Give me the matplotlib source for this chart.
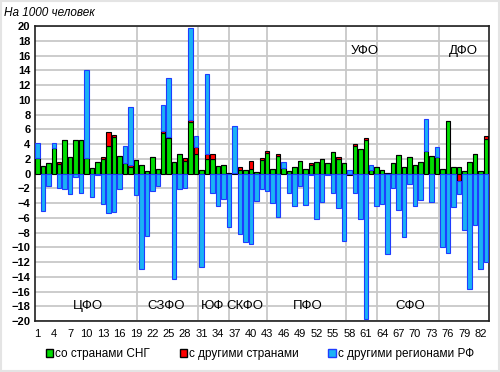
# -*- coding: utf-8 -*-
"""
Сальдо миграции по регионам РФ, на 1000 человек
"""

import numpy as np
import matplotlib
matplotlib.use('Agg')
import matplotlib.pyplot as plt
from matplotlib.patches import Patch, Rectangle

plt.rcParams['font.family'] = ['Liberation Sans', 'DejaVu Sans']

# Номера регионов (1..83)
regions = np.arange(1, 84)

# Сальдо миграции со странами СНГ
green = [2.1, 1.0, 1.4, 3.5, 1.3, 4.5, 2.3, 4.6, 4.6, 2.1,
         0.8, 1.6, 2.0, 3.8, 4.9, 2.4, 1.4, 0.9, 1.9, 1.1,
         0.3, 2.2, 0.6, 5.5, 4.8, 1.5, 2.6, 1.7, 6.95, 2.6,
         0.45, 1.95, 1.95, 1.0, 1.15, 0.1, 0.1, 0.5, 0.45, 0.65,
         0.25, 1.8, 2.75, 0.55, 2.4, 0.7, 0.3, 0.9, 1.7, 0.65,
         1.2, 1.55, 1.95, 1.45, 2.95, 2.0, 1.4, -0.15, 3.8, 3.3,
         4.5, 0.5, 0.85, 0.5, 0.12, 1.4, 2.45, 0.9, 2.3, 1.2,
         1.5, 3.1, 2.4, 2.2, 0.6, 7.15, 0.95, 0.85, 0.3, 1.55,
         2.65, 0.4, 4.65]

# Сальдо миграции с другими странами
red = [0, 0, 0, 0, 0.2, 0, 0, 0, 0, 0,
       0, 0, 0.3, 1.8, 0.3, 0, 0, 0.2, 0, 0,
       0, 0, 0, 0.25, 0.2, 0, 0, 0.4, 0.3, 1.05,
       0, 0.7, 0.7, 0, 0, 0, 0, 0.45, 0, 1.1,
       0, 0.3, 0.3, 0, 0.3, 0, 0, 0, 0, 0,
       0.2, 0, 0, 0, 0, 0.25, 0, 0, 0.25, 0,
       0.3, 0, 0, 0, 0, 0, 0, 0, 0, 0,
       0, 0, 0, 0, 0, 0, 0, -1.0, 0, 0,
       0, 0, 0.5]

# Сальдо миграции с другими регионами РФ
blue = [2.1, -5.1, -1.7, 0.7, -2.0, -2.1, -2.8, -0.5, -2.7, 11.9,
        -3.2, -0.2, -4.1, -5.4, -5.2, -2.1, 2.35, 7.9, -2.9, -13.0,
        -8.5, -2.35, -1.65, 3.6, 7.9, -14.3, -2.15, -2.0, 12.45, 1.45,
        -12.7, 10.9, -2.7, -4.35, -3.5, -7.3, 6.3, -8.2, -9.3, -9.5,
        -3.7, -2.1, -2.35, -4.0, -5.9, 0.85, -2.65, -4.45, -1.7, -4.2,
        -0.2, -6.15, -3.85, -0.2, -2.65, -4.65, -9.1, 0.45, -2.65, -6.15,
        -19.7, 0.7, -4.4, -4.1, -10.9, -1.95, -4.9, -8.6, -1.45, -4.4,
        -3.6, 4.3, -3.8, 1.4, -10.0, -10.8, -4.5, -1.8, -7.6, -15.7,
        -6.95, -12.9, -12.0]

# Федеральные округа: подписи и границы
okrug_names = ['ЦФО', 'СЗФО', 'ЮФ', 'СКФО', 'ПФО', 'УФО', 'СФО', 'ДФО']
okrug_x = [10.3, 24.5, 33.1, 38.9, 50.4, 60.8, 69.1, 78.8]
okrug_y = [-18.0, -18.0, -18.0, -18.0, -18.0, 16.6, -18.0, 16.6]
borders = [19.2, 30.3, 36.0, 42.9, 57.4, 63.1, 74.4]

c_green = '#00DD00'
c_red = '#FF0000'
c_blue = '#1AB2F5'

fig = plt.figure(figsize=(5, 3.72), dpi=100)
ax = fig.add_axes([0.0692, 0.137, 0.9086, 0.793])

# светло-серая рамка вокруг всего рисунка
fig.patches.append(Rectangle((0.002, 0.003), 0.995, 0.994, transform=fig.transFigure,
                             fill=False, edgecolor='#E4E4E4', linewidth=1.5))

# Накопление: положительные вверх, отрицательные вниз
pos = np.zeros(len(regions))
neg = np.zeros(len(regions))
series = [(green, c_green, 'black'), (red, c_red, 'black'), (blue, c_blue, '#1E3CFF')]
for vals, col, ec in series:
    v = np.array(vals, dtype=float)
    bottom = np.where(v >= 0, pos, neg)
    ax.bar(regions, v, bottom=bottom, width=0.82, color=col,
           edgecolor=ec, linewidth=0.8, zorder=3)
    pos = pos + np.where(v > 0, v, 0)
    neg = neg + np.where(v < 0, v, 0)

# Сетка и границы округов
ax.set_ylim(-20, 20)
ax.set_xlim(0.5, 83.5)
ax.set_yticks(np.arange(-20, 21, 2))
ax.yaxis.grid(True, color='#C8C8C8', linewidth=1.3, zorder=0)
ax.set_axisbelow(True)
for b in borders:
    ax.axvline(b, color='#C8C8C8', linewidth=1.3, zorder=1)

for name, x, y in zip(okrug_names, okrug_x, okrug_y):
    ax.text(x, y, name, ha='center', va='center', fontsize=9.5, zorder=4)

ax.set_xticks(regions[::3])
ax.set_xticklabels([str(r) for r in regions[::3]], fontsize=8)
ax.tick_params(axis='y', labelsize=8, length=0, pad=3)
ax.tick_params(axis='x', length=0, pad=6)
for lab in ax.get_yticklabels():
    lab.set_fontweight('bold')
for side in ['top', 'bottom', 'left', 'right']:
    ax.spines[side].set_linewidth(1.2)
    ax.spines[side].set_color('#202020')

fig.text(0.008, 0.965, 'На 1000 человек', fontsize=8.5, style='italic', va='center')

handles = [Patch(facecolor=c_green, edgecolor='black', label='со странами СНГ'),
           Patch(facecolor=c_red, edgecolor='black', label='с другими странами'),
           Patch(facecolor=c_blue, edgecolor='#1E3CFF', label='с другими регионами РФ')]
fig.legend(handles=handles, loc='center', bbox_to_anchor=(0.52, 0.048), ncol=3,
           frameon=False, fontsize=8.5, handlelength=0.6, handleheight=0.6,
           handletextpad=0.2, columnspacing=2.5)

fig.savefig('out.png', dpi=100)
